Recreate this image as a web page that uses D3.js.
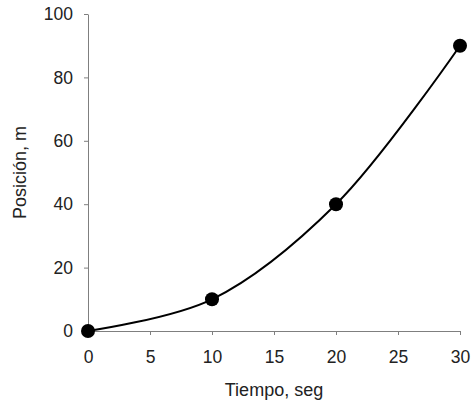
<!DOCTYPE html>
<html>
<head>
<meta charset="utf-8">
<script src="https://cdn.jsdelivr.net/npm/d3@7"></script>
<style>
  html, body { margin: 0; padding: 0; background: #fff; overflow: hidden; }
  svg { display: block; }
  svg text { font-family: "Liberation Sans", Arial, sans-serif; fill: #222; }
  .tick text { font-size: 17.5px; }
  .axis-label { font-size: 18px; }
</style>
</head>
<body>
<svg width="472" height="406"></svg>
<script>
const tiempo = [0, 10, 20, 30];
const posicion = [0, 10, 40, 90];
const xTicks = [0, 5, 10, 15, 20, 25, 30];
const yTicks = [0, 20, 40, 60, 80, 100];

const svg = d3.select("svg");
const margin = { top: 14, right: 12, bottom: 75, left: 88 };
const innerWidth = 460 - margin.left;
const innerHeight = 331 - margin.top;

const data = tiempo.map((t, i) => ({ x: t, y: posicion[i] }));

const xScale = d3.scaleLinear().domain([0, 30]).range([0, innerWidth]);
const yScale = d3.scaleLinear().domain([0, 100]).range([innerHeight, 0]);

const g = svg.append("g")
  .attr("transform", `translate(${margin.left}, ${margin.top})`);

const yAxisG = g.append("g")
  .call(d3.axisLeft(yScale).tickValues(yTicks).tickSize(4).tickSizeOuter(0).tickPadding(11));

const xAxisG = g.append("g")
  .attr("transform", `translate(0, ${innerHeight})`)
  .call(d3.axisBottom(xScale).tickValues(xTicks).tickSize(4).tickSizeOuter(0).tickPadding(16));

[yAxisG, xAxisG].forEach((a) => {
  a.selectAll(".domain").attr("stroke", "#7f7f7f");
  a.selectAll(".tick line").attr("stroke", "#7f7f7f");
});

xAxisG.append("text")
  .attr("class", "axis-label")
  .attr("x", innerWidth / 2)
  .attr("y", 65)
  .attr("text-anchor", "middle")
  .text("Tiempo, seg");

yAxisG.append("text")
  .attr("class", "axis-label")
  .attr("transform", "rotate(-90)")
  .attr("x", -innerHeight / 2)
  .attr("y", -62)
  .attr("text-anchor", "middle")
  .text("Posición, m");

const line = d3.line()
  .x((d) => xScale(d.x))
  .y((d) => yScale(d.y))
  .curve(d3.curveCatmullRom.alpha(0.5));

g.append("path")
  .datum(data)
  .attr("fill", "none")
  .attr("stroke", "#000")
  .attr("stroke-width", 2)
  .attr("d", line);

g.selectAll("circle")
  .data(data)
  .enter()
  .append("circle")
  .attr("cx", (d) => xScale(d.x))
  .attr("cy", (d) => yScale(d.y))
  .attr("r", 7)
  .attr("fill", "#000");
</script>
</body>
</html>
